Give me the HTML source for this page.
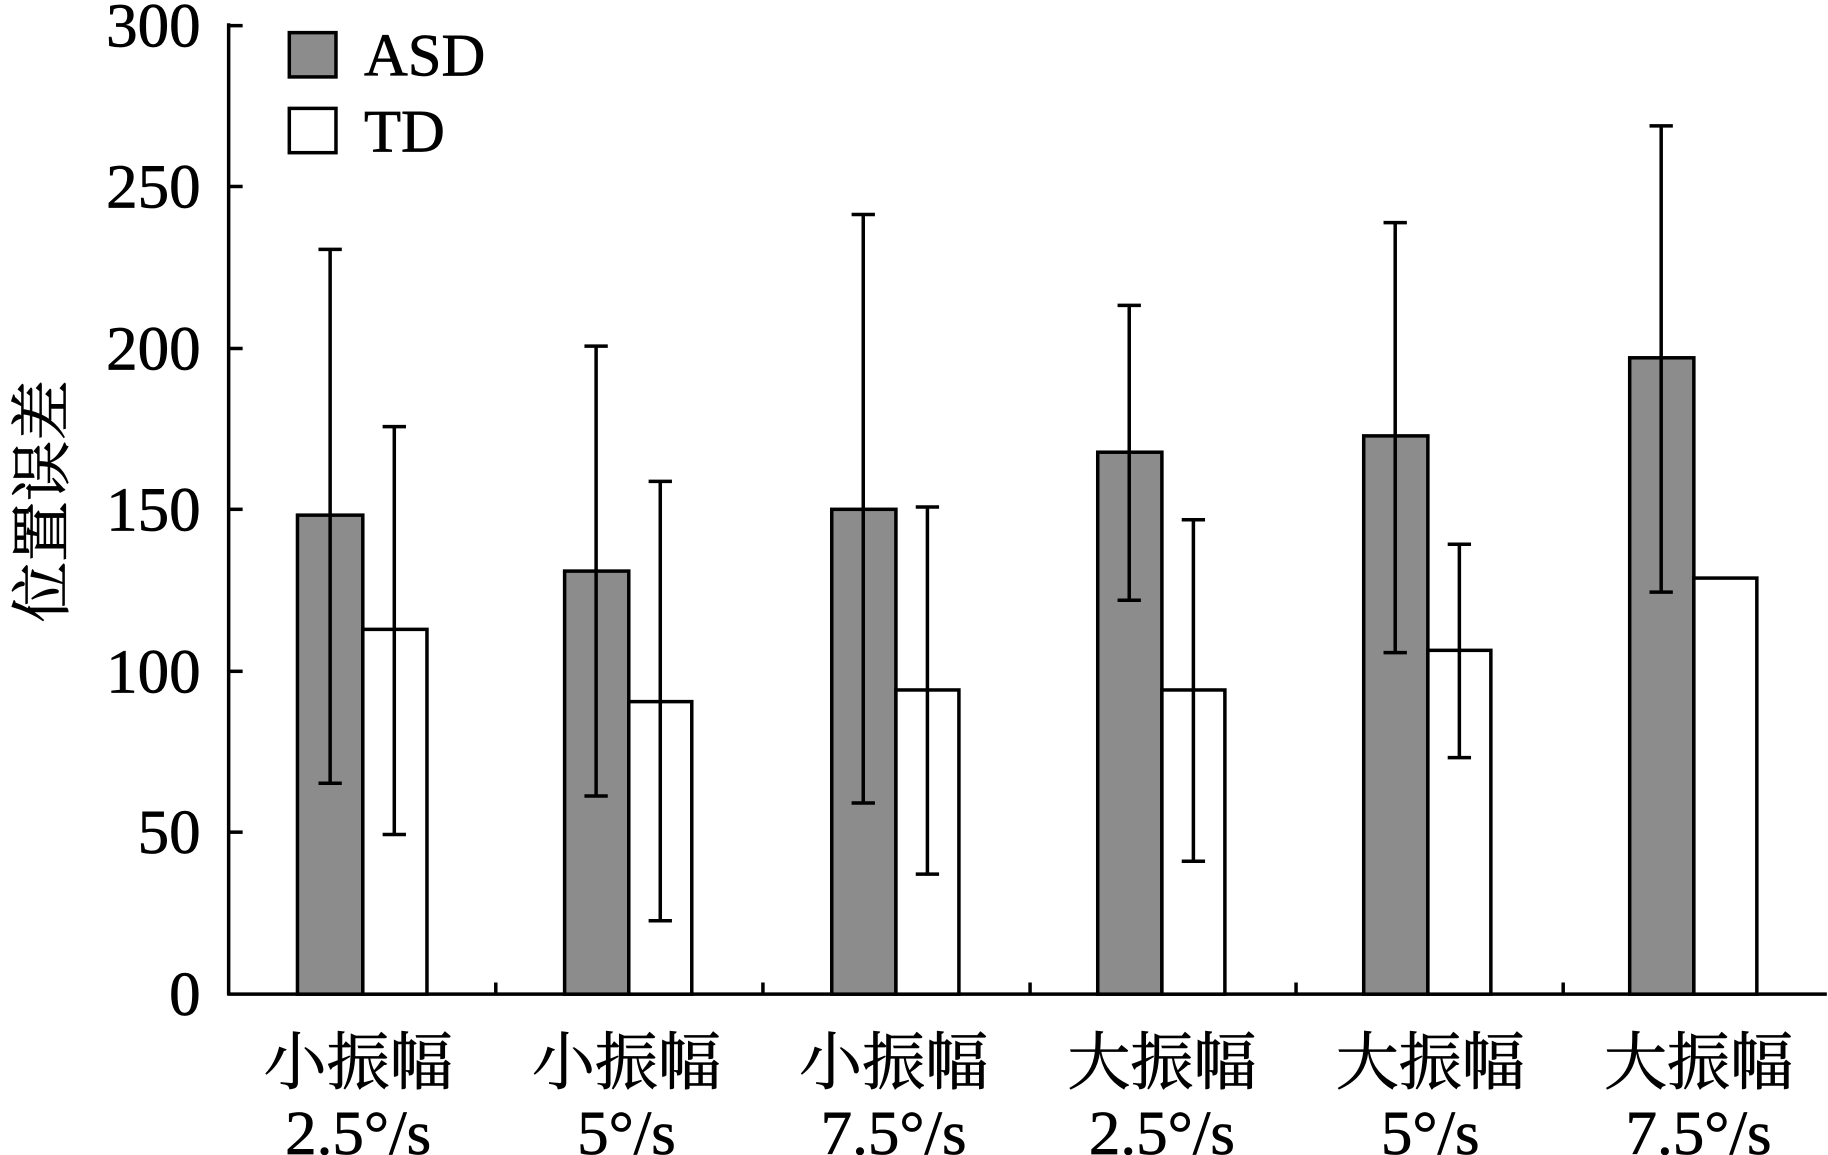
<!DOCTYPE html>
<html><head><meta charset="utf-8"><style>
html,body{margin:0;padding:0;background:#fff;}
svg{display:block;}
text{font-family:"Liberation Serif","Noto Serif CJK SC",serif;fill:#000;stroke:#000;stroke-width:0.6;}
</style></head><body>
<svg width="1828" height="1155" viewBox="0 0 1567 991" preserveAspectRatio="none" xmlns="http://www.w3.org/2000/svg">
<g stroke="#000" stroke-width="3" fill="none">
<line x1="196" y1="20" x2="196" y2="854"/>
<line x1="195" y1="853" x2="1566" y2="853"/>
<line x1="196" y1="22" x2="208" y2="22"/>
<line x1="196" y1="160" x2="208" y2="160"/>
<line x1="196" y1="299" x2="208" y2="299"/>
<line x1="196" y1="437" x2="208" y2="437"/>
<line x1="196" y1="576" x2="208" y2="576"/>
<line x1="196" y1="714" x2="208" y2="714"/>
<line x1="425" y1="853" x2="425" y2="843"/>
<line x1="654" y1="853" x2="654" y2="843"/>
<line x1="883" y1="853" x2="883" y2="843"/>
<line x1="1111" y1="853" x2="1111" y2="843"/>
<line x1="1340" y1="853" x2="1340" y2="843"/>
</g>
<g stroke="#000" stroke-width="3">
<rect x="255" y="442" width="56" height="411" fill="#8c8c8c"/>
<rect x="311" y="540" width="55" height="313" fill="#fff"/>
<rect x="484" y="490" width="55" height="363" fill="#8c8c8c"/>
<rect x="539" y="602" width="54" height="251" fill="#fff"/>
<rect x="713" y="437" width="55" height="416" fill="#8c8c8c"/>
<rect x="768" y="592" width="54" height="261" fill="#fff"/>
<rect x="941" y="388" width="55" height="465" fill="#8c8c8c"/>
<rect x="996" y="592" width="54" height="261" fill="#fff"/>
<rect x="1169" y="374" width="55" height="479" fill="#8c8c8c"/>
<rect x="1224" y="558" width="54" height="295" fill="#fff"/>
<rect x="1397" y="307" width="55" height="546" fill="#8c8c8c"/>
<rect x="1452" y="496" width="54" height="357" fill="#fff"/>
<rect x="248" y="28" width="40" height="38" fill="#8c8c8c"/>
<rect x="248" y="93" width="40" height="38" fill="#fff"/>
</g>
<g stroke="#000" stroke-width="3" fill="none">
<path d="M283 214V672M273 214H293M273 672H293"/>
<path d="M338 366V716M328 366H348M328 716H348"/>
<path d="M511 297V683M501 297H521M501 683H521"/>
<path d="M566 413V790M556 413H576M556 790H576"/>
<path d="M740 184V689M730 184H750M730 689H750"/>
<path d="M795 435V750M785 435H805M785 750H805"/>
<path d="M968 262V515M958 262H978M958 515H978"/>
<path d="M1023 446V739M1013 446H1033M1013 739H1033"/>
<path d="M1196 191V560M1186 191H1206M1186 560H1206"/>
<path d="M1251 467V650M1241 467H1261M1241 650H1261"/>
<path d="M1424 108V508M1414 108H1434M1414 508H1434"/>
</g>
<g font-size="54" text-anchor="end">
<text x="172" y="40">300</text>
<text x="172" y="178">250</text>
<text x="172" y="317">200</text>
<text x="172" y="455">150</text>
<text x="172" y="594">100</text>
<text x="172" y="732">50</text>
<text x="172" y="871">0</text>
</g>
<text x="312" y="65" font-size="52">ASD</text>
<text x="312" y="130" font-size="52">TD</text>
<text transform="translate(54,430) rotate(-90)" font-size="52" text-anchor="middle">位置误差</text>
<g font-size="54" text-anchor="middle">
<text x="307" y="930">小振幅</text><text x="307" y="990">2.5°/s</text>
<text x="537" y="930">小振幅</text><text x="537" y="990">5°/s</text>
<text x="766" y="930">小振幅</text><text x="766" y="990">7.5°/s</text>
<text x="996" y="930">大振幅</text><text x="996" y="990">2.5°/s</text>
<text x="1226" y="930">大振幅</text><text x="1226" y="990">5°/s</text>
<text x="1456" y="930">大振幅</text><text x="1456" y="990">7.5°/s</text>
</g>
</svg>
</body></html>
